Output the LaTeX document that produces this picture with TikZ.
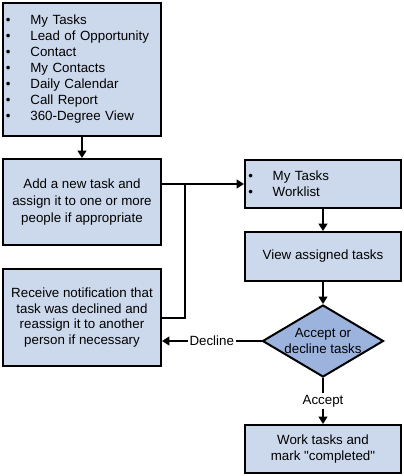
\documentclass[tikz,border=0pt]{standalone}
\usepackage{fontspec}
\setmainfont{Liberation Sans}
\usetikzlibrary{shapes.geometric,arrows.meta}
\definecolor{boxfill}{HTML}{CCD9EC}
\definecolor{diafill}{HTML}{9BB3DD}
\begin{document}
\begin{tikzpicture}[x=0.75pt,y=-0.75pt,
  every node/.style={font=\fontsize{10}{12}\selectfont},
  box/.style={draw,line width=1.5pt,fill=boxfill,inner sep=0pt,align=center},
  dia/.style={draw,line width=1.5pt,fill=diafill,diamond,inner sep=0pt,aspect=1.68,align=center},
  conn/.style={line width=1.5pt},
  arr/.style={conn,-{Triangle[length=5.5pt,width=6.5pt]}},
  lbl/.style={fill=white,inner sep=1.5pt}]
\useasboundingbox (0,0) rectangle (404,476);
\newcommand{\bl}[1]{\makebox[18.3pt][l]{\textbullet}#1}
\node[box,minimum width=118.5pt,minimum height=99.75pt,text width=114pt,align=left] (b1) at (82,69.5)
  {\bl{My Tasks}\\\bl{Lead of Opportunity}\\\bl{Contact}\\\bl{My Contacts}\\\bl{Daily Calendar}\\\bl{Call Report}\\\bl{360-Degree View}};
\node[box,minimum width=118.5pt,minimum height=64.5pt,font=\fontsize{10}{12.6}\selectfont] (b2) at (82,202)
  {Add a new task and\\assign it to one or more\\people if appropriate};
\node[box,minimum width=117pt,minimum height=36pt,text width=112pt,align=left] (b3) at (323,184)
  {\bl{My Tasks}\\\bl{Worklist}};
\node[box,minimum width=117pt,minimum height=36.75pt] (b4) at (323,256.5) {View assigned tasks};
\node[dia,minimum width=90.75pt,minimum height=54pt] (d) at (323,341) {Accept or\\decline tasks};
\node[box,minimum width=118.5pt,minimum height=72.75pt,font=\fontsize{10}{11.8}\selectfont] (b5) at (82,317.5)
  {Receive notification that\\task was declined and\\reassign it to another\\person if necessary};
\node[box,minimum width=117pt,minimum height=36pt] (b6) at (323,449) {Work tasks and\\mark \textquotedbl completed\textquotedbl};
\coordinate (br) at (185,184);
\draw[arr] (b1.south) -- (b2.north);
\draw[arr] (b2.east |- b3.west) -- (b3.west);
\draw[conn] (br) |- (b5.east);
\draw[arr] (b3.south) -- (b4.north);
\draw[arr] (b4.south) -- (d.north);
\draw[arr] (d.west) -- node[lbl] (dl) {Decline} (d.west -| b5.east);
\draw[arr] (d.south) -- node[lbl] (al) {Accept} (b6.north);
\end{tikzpicture}
\end{document}
